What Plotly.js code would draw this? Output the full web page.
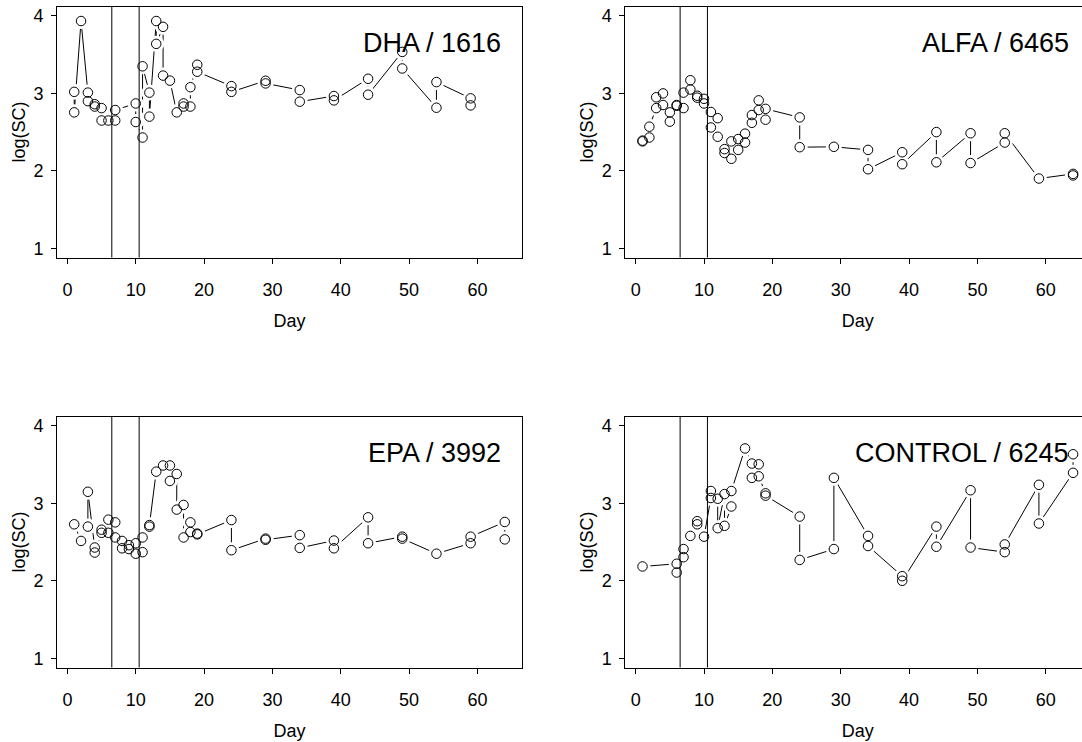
<!DOCTYPE html>
<html>
<head>
<meta charset="utf-8">
<script src="https://cdn.plot.ly/plotly-3.0.1.min.js"></script>
<style>
html, body { margin: 0; padding: 0; overflow: hidden; background: #fff; }
#chart { width: 1137px; height: 742px; }
</style>
</head>
<body>
<div id="chart"></div>
<script>
// ---- data (day, log(SC)) ----
const dhaDay = [1,1,2,3,3,4,4,5,5,6,7,7,10,10,11,11,12,12,13,13,14,14,15,16,17,17,18,18,19,19,24,24,29,29,34,34,39,39,44,44,49,49,54,54,59,59];
const dhaLogSC = [3.02,2.755,3.935,3.01,2.90,2.86,2.83,2.81,2.65,2.65,2.65,2.785,2.87,2.63,2.43,3.35,3.01,2.70,3.935,3.64,3.86,3.23,3.165,2.755,2.87,2.83,2.83,3.08,3.37,3.28,3.094,3.02,3.163,3.129,3.043,2.893,2.966,2.910,3.189,2.983,3.536,3.322,2.815,3.146,2.936,2.845];

const alfaDay = [1,1,2,2,3,3,4,4,5,5,6,6,7,7,8,8,9,9,10,10,11,11,12,12,13,13,14,14,15,15,16,16,17,17,18,18,19,19,24,24,29,34,34,39,39,44,44,49,49,54,54,59,64,64];
const alfaLogSC = [2.39,2.38,2.43,2.57,2.81,2.95,3.00,2.85,2.755,2.635,2.84,2.85,2.81,3.01,3.17,3.05,2.97,2.945,2.93,2.87,2.76,2.56,2.68,2.44,2.28,2.23,2.155,2.38,2.27,2.41,2.365,2.48,2.62,2.72,2.91,2.785,2.66,2.80,2.69,2.305,2.31,2.27,2.02,2.24,2.085,2.50,2.11,2.485,2.10,2.365,2.485,1.90,1.96,1.94];

const epaDay = [1,2,3,3,4,4,5,5,6,6,7,7,8,8,9,9,10,10,11,11,12,12,13,14,15,15,16,16,17,17,18,18,19,19,24,24,29,29,34,34,39,39,44,44,49,49,54,59,59,64,64];
const epaLogSC = [2.73,2.515,2.70,3.15,2.43,2.365,2.62,2.66,2.79,2.62,2.755,2.56,2.515,2.42,2.46,2.41,2.35,2.485,2.37,2.56,2.70,2.72,3.41,3.49,3.49,3.29,3.38,2.92,2.98,2.56,2.755,2.63,2.61,2.60,2.785,2.395,2.545,2.53,2.59,2.425,2.52,2.42,2.82,2.485,2.57,2.545,2.35,2.485,2.57,2.76,2.535];

const controlDay = [1,6,6,7,7,8,9,9,10,11,11,12,12,13,13,14,14,16,17,17,18,18,19,19,24,24,29,29,34,34,39,39,44,44,49,49,54,54,59,59,64,64];
const controlLogSC = [2.185,2.22,2.107,2.305,2.41,2.58,2.73,2.77,2.57,3.07,3.16,3.06,2.68,3.12,2.71,2.96,3.16,3.71,3.515,3.33,3.505,3.35,3.13,3.10,2.83,2.27,2.41,3.33,2.58,2.45,2.06,2.00,2.70,2.44,3.17,2.43,2.37,2.47,3.24,2.74,3.395,3.635];

const panelLabels = ["DHA / 1616", "ALFA / 6465", "EPA / 3992", "CONTROL / 6245"];
const treatmentDays = [6.5, 10.5];
const xTicks = [0, 10, 20, 30, 40, 50, 60];
const yTicks = [1, 2, 3, 4];

// ---- layout geometry (pixels of a 1137 x 742 figure, cropped to 1082) ----
const W = 1137, H = 742;
const FONT = "Liberation Sans, Arial, Helvetica, sans-serif";
const cols = [[57, 522], [625.3, 1090.3]];
const rows = [[6.7, 257.5], [416.7, 667.5]];

const panels = [
  {day: dhaDay, val: dhaLogSC, c: 0, r: 0},
  {day: alfaDay, val: alfaLogSC, c: 1, r: 0},
  {day: epaDay, val: epaLogSC, c: 0, r: 1},
  {day: controlDay, val: controlLogSC, c: 1, r: 1}
];

const data = [];
const layout = {
  width: W, height: H,
  margin: {l: 0, r: 0, t: 0, b: 0},
  paper_bgcolor: "white", plot_bgcolor: "white",
  showlegend: false,
  font: {family: FONT, size: 18, color: "black"},
  shapes: [], annotations: []
};

panels.forEach((p, i) => {
  const n = i === 0 ? "" : String(i + 1);
  const xa = "x" + n, ya = "y" + n;
  data.push({x: p.day, y: p.val, xaxis: xa, yaxis: ya, type: "scatter", mode: "lines",
             line: {color: "black", width: 1}, hoverinfo: "skip"});
  data.push({x: p.day, y: p.val, xaxis: xa, yaxis: ya, type: "scatter", mode: "markers",
             marker: {symbol: "circle", size: 16, color: "white", line: {width: 0}}, hoverinfo: "skip"});
  data.push({x: p.day, y: p.val, xaxis: xa, yaxis: ya, type: "scatter", mode: "markers",
             marker: {symbol: "circle-open", size: 9.5, color: "black", line: {width: 1, color: "black"}}});
  const cx = cols[p.c], ry = rows[p.r];
  layout["xaxis" + n] = {
    domain: [cx[0] / W, cx[1] / W], anchor: ya, range: [-1.52, 66.52],
    tickmode: "array", tickvals: xTicks, ticktext: xTicks.map(String),
    ticks: "outside", ticklen: 5, tickwidth: 1, tickcolor: "black",
    showline: true, mirror: true, linecolor: "black", linewidth: 1,
    showgrid: false, zeroline: false, ticklabelstandoff: 11,
    tickfont: {family: FONT, size: 18, color: "black"},
    title: {text: "Day", font: {family: FONT, size: 18, color: "black"}, standoff: 15}
  };
  layout["yaxis" + n] = {
    domain: [1 - ry[1] / H, 1 - ry[0] / H], anchor: xa, range: [0.88, 4.12],
    tickmode: "array", tickvals: yTicks, ticktext: yTicks.map(String),
    ticks: "outside", ticklen: 5, tickwidth: 1, tickcolor: "black",
    showline: true, mirror: true, linecolor: "black", linewidth: 1,
    showgrid: false, zeroline: false, ticklabelstandoff: 4,
    tickfont: {family: FONT, size: 18, color: "black"},
    title: {text: "log(SC)", font: {family: FONT, size: 18, color: "black"}, standoff: 3}
  };
  treatmentDays.forEach(d => {
    layout.shapes.push({type: "line", xref: xa, yref: ya + " domain", x0: d, x1: d, y0: 0, y1: 1,
                        line: {color: "black", width: 1}, layer: "above"});
  });
  layout.annotations.push({
    text: panelLabels[i], xref: "paper", yref: "paper",
    x: (cx[1] - 19) / W, y: 1 - (ry[0] + 36) / H, xanchor: "right", yanchor: "middle",
    showarrow: false, font: {family: FONT, size: 27, color: "black"}
  });
});

Plotly.newPlot("chart", data, layout, {displayModeBar: false, staticPlot: true});
</script>
</body>
</html>
